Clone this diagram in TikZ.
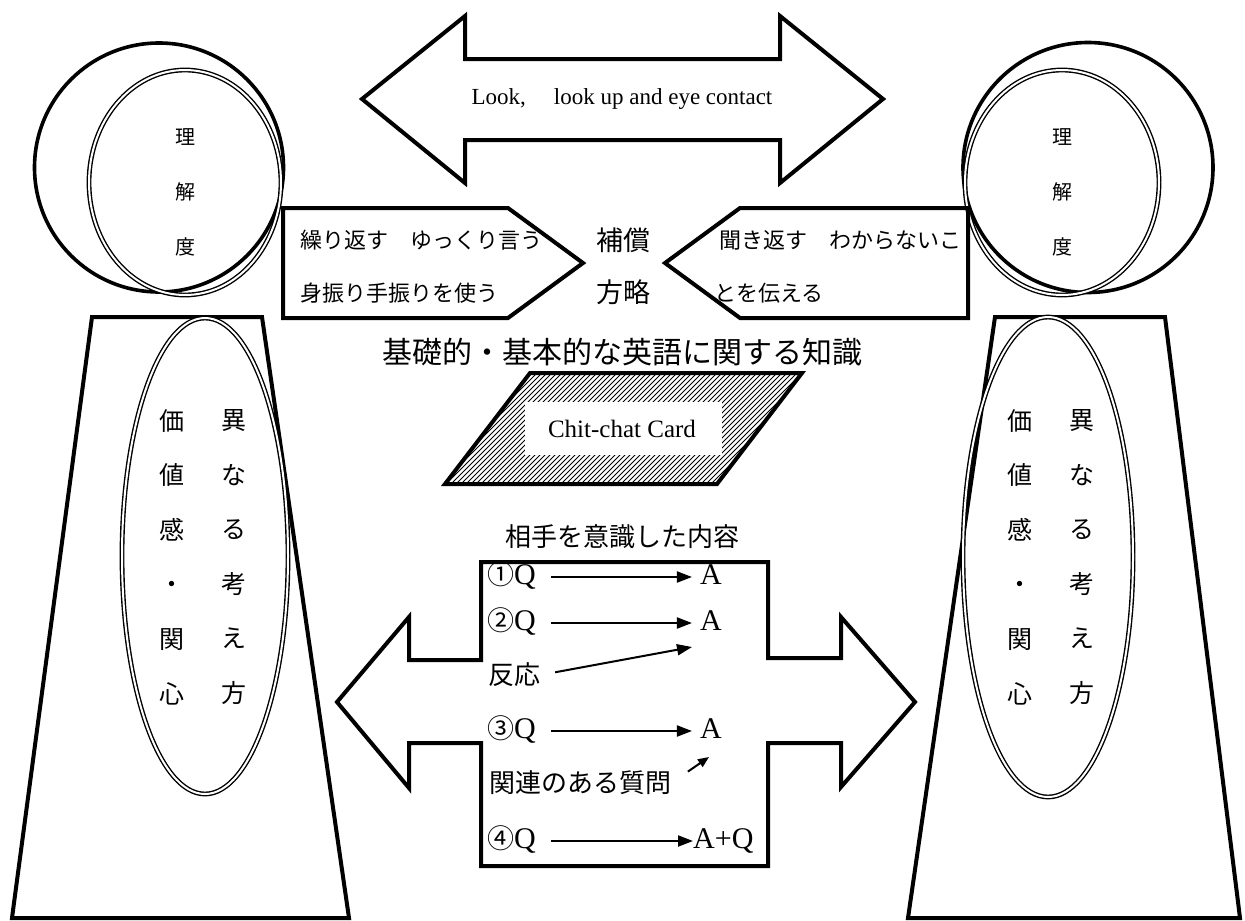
\documentclass[tikz,border=0pt]{standalone}
\usepackage{fontspec}
\setmainfont{Liberation Serif}
\newfontfamily\jp{Noto Sans CJK JP}
\usetikzlibrary{arrows.meta}
\tikzset{
  shp/.style={line width=4pt, line join=miter},
  rim/.style={line width=3.6pt},
  dbl/.style={double, double distance=2pt, line width=1.4pt},
  jtxt/.style={inner sep=0pt, font=\jp\fontsize{#1}{#1}\selectfont},
  vtxt/.style={inner sep=0pt, align=center, font=\jp\fontsize{#1}{54.6}\selectfont},
  htxt/.style={inner sep=0pt, align=center, font=\jp\fontsize{20}{55}\selectfont},
  ltxt/.style={inner sep=0pt, font=\fontsize{#1}{#1}\selectfont},
  rowtxt/.style={inner sep=0pt, text height=20pt, text depth=5pt, font=\fontsize{30}{30}\selectfont},
  qa/.style={-{Triangle[length=15pt,width=11pt]}, line width=2pt},
  qasmall/.style={-{Triangle[length=11pt,width=9pt]}, line width=2pt},
}
\begin{document}
\begin{tikzpicture}[x=1pt,y=-1pt]
\useasboundingbox (0,0) rectangle (1245,921);

% bodies
\draw[shp] (92,317) -- (262,317) -- (349,918) -- (12,918) -- cycle;
\draw[shp] (995,317) -- (1165,317) -- (1240,918) -- (908,918) -- cycle;
\draw[dbl] (205,556) ellipse [x radius=83, y radius=238];
\draw[dbl] (1048,557) ellipse [x radius=85, y radius=240];
\node[vtxt=25] (lvA) at (172,557) {価\\値\\感\\・\\関\\心};
\node[vtxt=25] (lvB) at (234,557) {異\\な\\る\\考\\え\\方};
\node[vtxt=25] (rvA) at (1020,557) {価\\値\\感\\・\\関\\心};
\node[vtxt=25] (rvB) at (1082,557) {異\\な\\る\\考\\え\\方};

% heads
\draw[rim] (159,167.5) circle [radius=124.5];
\draw[dbl] (185,182.5) ellipse [x radius=96, y radius=112.5];
\draw[rim] (1088,167.5) circle [radius=125];
\draw[dbl] (1062,182.5) ellipse [x radius=97, y radius=112.5];
\node[htxt] (lh) at (185,192) {理\\解\\度};
\node[htxt] (rh) at (1062,192) {理\\解\\度};

% top double arrow
\draw[shp] (362,99) -- (465,16) -- (465,59) -- (780,59) -- (780,16) -- (883,99)
  -- (780,183) -- (780,140) -- (465,140) -- (465,183) -- cycle;
\node[ltxt=23] (look) at (622,99) {Look,\hspace{28pt}look up and eye contact};

% compensation strategies
\draw[shp] (283,208) -- (508,208) -- (583,263) -- (508,318) -- (283,318) -- cycle;
\draw[shp] (968,208) -- (740,208) -- (665,263) -- (740,318) -- (968,318) -- cycle;
\node[jtxt=22, anchor=west] (c1) at (300,240) {繰り返す　ゆっくり言う};
\node[jtxt=22, anchor=west] (c2) at (300,293) {身振り手振りを使う};
\node[jtxt=22, anchor=west] (c3) at (719,240) {聞き返す　わからないこ};
\node[jtxt=22, anchor=west] (c4) at (714,293) {とを伝える};
\node[jtxt=27] (h1) at (623,240) {補償};
\node[jtxt=27] (h2) at (623,292) {方略};

\node[jtxt=30] (kiso) at (622,352) {基礎的・基本的な英語に関する知識};

% chit-chat card
\begin{scope}
\clip (530,373) -- (802,373) -- (717,484) -- (445,484) -- cycle;
\foreach \i in {320,325,...,810} \draw[line width=0.8pt] (\i,490) -- ++(125,-125);
\end{scope}
\fill[white] (525,402) rectangle (722,455);
\draw[shp] (530,373) -- (802,373) -- (717,484) -- (445,484) -- cycle;
\node[ltxt=25] (card) at (622,429) {Chit-chat Card};

\node[jtxt=26] (aite) at (622,537) {相手を意識した内容};

% lower double arrow
\draw[shp] (481,562) -- (768,562) -- (768,658) -- (841,658) -- (841,617) -- (915,702)
  -- (841,787) -- (841,743) -- (768,743) -- (768,866) -- (481,866) -- (481,743)
  -- (409,743) -- (409,788) -- (337,702) -- (409,617) -- (409,660) -- (481,660) -- cycle;

\node[rowtxt, anchor=west] (q1) at (487,577) {{\jp\fontsize{27}{27}\selectfont ①}Q};
\node[rowtxt, anchor=west] (q2) at (487,623) {{\jp\fontsize{27}{27}\selectfont ②}Q};
\node[rowtxt, anchor=west] (q3) at (487,731) {{\jp\fontsize{27}{27}\selectfont ③}Q};
\node[rowtxt, anchor=west] (q4) at (487,841) {{\jp\fontsize{27}{27}\selectfont ④}Q};
\node[rowtxt] (a1) at (711,577) {A};
\node[rowtxt] (a2) at (711,623) {A};
\node[rowtxt] (a3) at (711,731) {A};
\node[rowtxt, anchor=west] (a4) at (693,841) {A+Q};
\node[jtxt=26, anchor=west] (hanno) at (488,675) {反応};
\node[jtxt=26, anchor=west] (kanren) at (489,783) {関連のある質問};
\coordinate (rtip) at (692,647);
\coordinate (ktip) at (709,757);

\draw[qa, shorten <=15pt, shorten >=8pt] (q1.east) -- (a1.west);
\draw[qa, shorten <=15pt, shorten >=8pt] (q2.east) -- (a2.west);
\draw[qa, shorten <=15pt, shorten >=8pt] (q3.east) -- (a3.west);
\draw[qa, shorten <=15pt] (q4.east) -- (a4.west);
\draw[qa, shorten <=15pt] (hanno.east) -- (rtip);
\draw[qasmall, shorten <=20pt] (kanren.east) -- (ktip);
\end{tikzpicture}
\end{document}
